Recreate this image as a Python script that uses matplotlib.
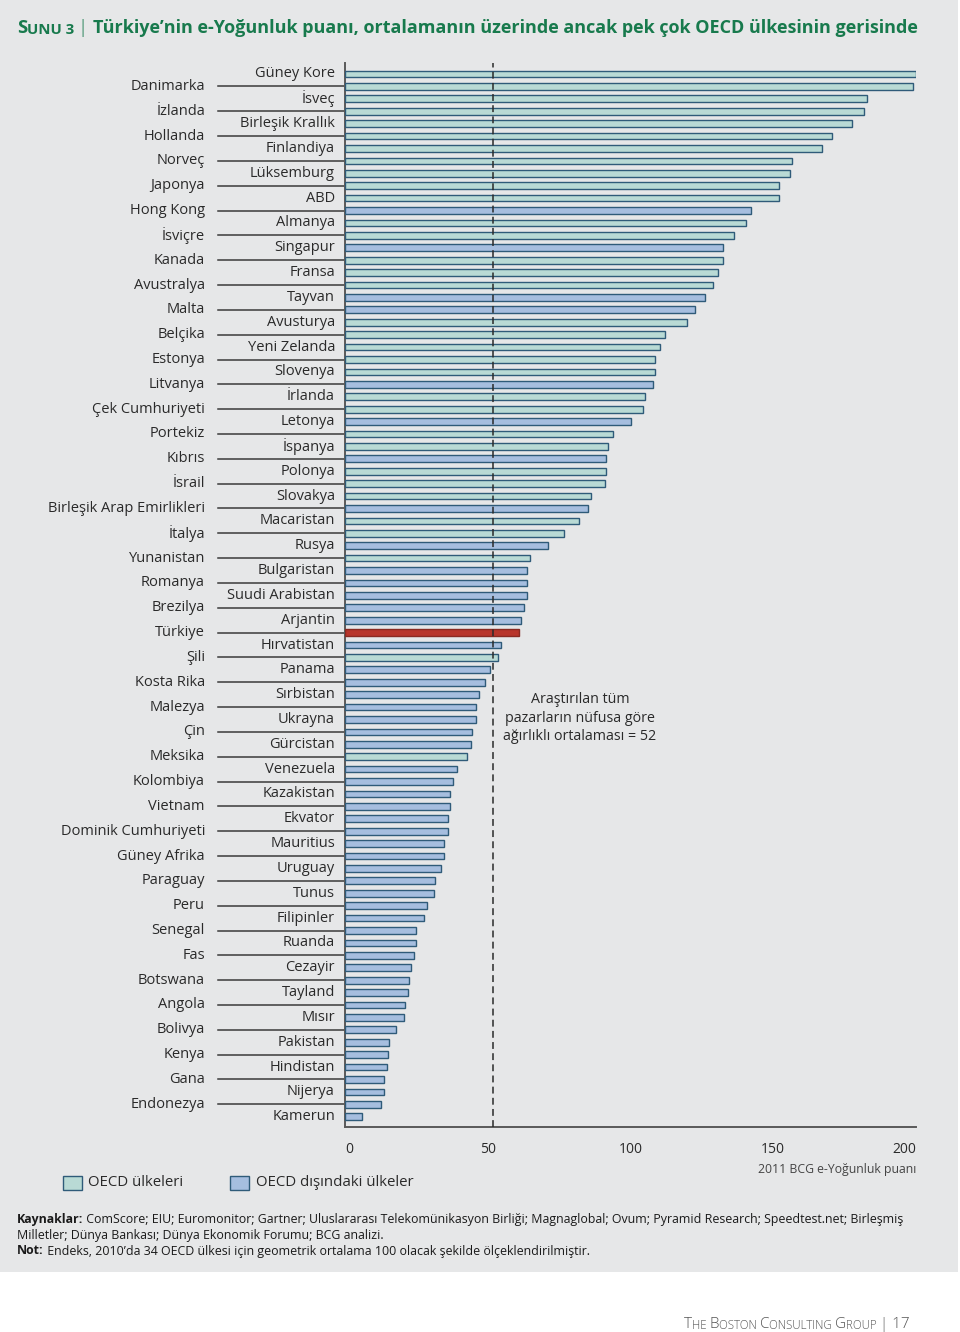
import matplotlib
matplotlib.use("Agg")
import matplotlib.pyplot as plt
from matplotlib.patches import Rectangle

plt.rcParams['font.family'] = ['Open Sans', 'DejaVu Sans']

# ---------------- data ----------------
countries = [
    "Güney Kore", "Danimarka", "İsveç", "İzlanda", "Birleşik Krallık", "Hollanda",
    "Finlandiya", "Norveç", "Lüksemburg", "Japonya", "ABD", "Hong Kong",
    "Almanya", "İsviçre", "Singapur", "Kanada", "Fransa", "Avustralya",
    "Tayvan", "Malta", "Avusturya", "Belçika", "Yeni Zelanda", "Estonya",
    "Slovenya", "Litvanya", "İrlanda", "Çek Cumhuriyeti", "Letonya", "Portekiz",
    "İspanya", "Kıbrıs", "Polonya", "İsrail", "Slovakya", "Birleşik Arap Emirlikleri",
    "Macaristan", "İtalya", "Rusya", "Yunanistan", "Bulgaristan", "Romanya",
    "Suudi Arabistan", "Brezilya", "Arjantin", "Türkiye", "Hırvatistan", "Şili",
    "Panama", "Kosta Rika", "Sırbistan", "Malezya", "Ukrayna", "Çin",
    "Gürcistan", "Meksika", "Venezuela", "Kolombiya", "Kazakistan", "Vietnam",
    "Ekvator", "Dominik Cumhuriyeti", "Mauritius", "Güney Afrika", "Uruguay", "Paraguay",
    "Tunus", "Peru", "Filipinler", "Senegal", "Ruanda", "Fas",
    "Cezayir", "Botswana", "Tayland", "Angola", "Mısır", "Bolivya",
    "Pakistan", "Kenya", "Hindistan", "Gana", "Nijerya", "Endonezya",
    "Kamerun",
]
scores = [
    200.0, 198.8, 182.8, 181.7, 177.6, 170.7,
    167.1, 156.6, 155.9, 152.0, 152.0, 142.1,
    140.3, 136.4, 132.5, 132.5, 130.6, 129.0,
    126.1, 122.5, 119.7, 112.2, 110.4, 108.7,
    108.7, 107.8, 105.0, 104.3, 100.0, 94.0,
    92.1, 91.4, 91.4, 91.1, 86.2, 85.0,
    82.1, 76.8, 71.0, 64.9, 63.9, 63.9,
    63.9, 62.8, 61.8, 61.1, 54.5, 53.6,
    50.7, 48.9, 46.8, 45.8, 45.8, 44.6,
    44.2, 42.8, 39.3, 37.7, 36.8, 36.8,
    36.0, 36.0, 34.6, 34.6, 33.5, 31.6,
    31.2, 28.7, 27.7, 24.9, 24.9, 24.2,
    23.1, 22.4, 22.1, 21.1, 20.8, 18.0,
    15.4, 15.1, 14.7, 13.6, 13.6, 12.5,
    5.8,
]
oecd_members = [
    "Güney Kore", "Danimarka", "İsveç", "İzlanda", "Birleşik Krallık", "Hollanda",
    "Finlandiya", "Norveç", "Lüksemburg", "Japonya", "ABD", "Almanya", "İsviçre",
    "Kanada", "Fransa", "Avustralya", "Avusturya", "Belçika", "Yeni Zelanda",
    "Estonya", "Slovenya", "İrlanda", "Çek Cumhuriyeti", "Portekiz", "İspanya",
    "Polonya", "İsrail", "Slovakya", "Macaristan", "İtalya", "Yunanistan",
    "Türkiye", "Şili", "Meksika",
]
highlight = "Türkiye"
average_value = 52
x_ticks = [0, 50, 100, 150, 200]

# ---------------- styles ----------------
W, H = 960, 1332
BG = "#e6e7e8"
C_OECD = "#b9dad5"
C_NON = "#a6bedf"
C_HL = "#b8352b"
EDGE = "#2f5b79"
TXT = "#2a2a2a"
GREEN = "#187a4d"

fig = plt.figure(figsize=(W / 100, H / 100), dpi=100)
fig.patch.set_facecolor("white")
fig.patches.append(Rectangle((0, 1 - 1272 / H), 958 / W, 1272 / H,
                             transform=fig.transFigure, facecolor=BG,
                             edgecolor="none", zorder=-10))

def fx(px):
    return px / W

def fy(py):
    return 1 - py / H

ax_left, ax_right, ax_top, ax_bot = 345, 916, 63, 1127
ax = fig.add_axes([fx(ax_left), fy(ax_bot), (ax_right - ax_left) / W, (ax_bot - ax_top) / H])
ax.set_facecolor("none")
ax.set_zorder(1)

n = len(countries)
ypos = list(range(n))
colors = []
for c in countries:
    if c == highlight:
        colors.append(C_HL)
    elif c in oecd_members:
        colors.append(C_OECD)
    else:
        colors.append(C_NON)
edges = [("#8a2a22" if c == highlight else EDGE) for c in countries]

ax.barh(ypos, scores, height=0.54, color=colors, edgecolor=edges, linewidth=1.0, zorder=3)

step = (1116.7 - 74) / 84
ax.set_xlim(0, 200)
ax.set_ylim((n - 1) + (ax_bot - 1116.7) / step, -(74 - ax_top) / step)

ax.axvline(average_value, color="#2a2a2a", lw=1.1, ls=(0, (4.5, 2.8)), zorder=4)

for s in ["top", "right"]:
    ax.spines[s].set_visible(False)
for s in ["left", "bottom"]:
    ax.spines[s].set_color("#5a5a5a")
    ax.spines[s].set_linewidth(1.4)

ax.set_yticks([])
ax.set_xticks(x_ticks)
ax.set_xticklabels([str(t) for t in x_ticks])
ax.tick_params(axis="x", length=0, pad=11, labelsize=10, labelcolor=TXT)
labels = ax.get_xticklabels()
labels[0].set_ha("left")
labels[-1].set_ha("right")

ax.text(1.0, -0.04, "2011 BCG e-Yoğunluk puanı", transform=ax.transAxes,
        ha="right", va="center", fontsize=8.8, color="#444444")

# country labels
ytr = ax.get_yaxis_transform()
for i, c in enumerate(countries):
    if i % 2 == 0:
        ax.text((335 - ax_left) / (ax_right - ax_left), i, c, transform=ytr,
                ha="right", va="center", fontsize=10.5, color=TXT)
    else:
        ax.text((205 - ax_left) / (ax_right - ax_left), i, c, transform=ytr,
                ha="right", va="center", fontsize=10.5, color=TXT)
        ax.plot([(218 - ax_left) / (ax_right - ax_left), 0], [i, i], transform=ytr,
                color="#3a3a3a", lw=1.1, clip_on=False, zorder=2)

# average annotation
ax.text(82.3, 51.9, "Araştırılan tüm\npazarların nüfusa göre\nağırlıklı ortalaması = 52",
        ha="center", va="center", fontsize=10.3, color=TXT, linespacing=1.3)

# ---------------- title ----------------
t1 = fig.text(fx(17), fy(33), "S", fontsize=13.3, fontweight="bold", color=GREEN, va="baseline")
t2 = ax.annotate("UNU 3 ", xy=(1, 0), xycoords=t1, va="bottom", ha="left",
                 fontsize=10.8, fontweight="bold", color=GREEN, annotation_clip=False)
t3 = ax.annotate("| ", xy=(1, 0), xycoords=t2, va="bottom", ha="left",
                 fontsize=13.3, fontweight="light", color=GREEN, annotation_clip=False)
t4 = ax.annotate("Türkiye’nin e-Yoğunluk puanı, ortalamanın üzerinde ancak pek çok OECD ülkesinin gerisinde",
                 xy=(1, 0), xycoords=t3, va="bottom", ha="left",
                 fontsize=13.0, fontweight="bold", color=GREEN, annotation_clip=False)

# ---------------- legend ----------------
fig.patches.append(Rectangle((fx(63), fy(1190)), 19 / W, 14 / H, transform=fig.transFigure,
                             facecolor=C_OECD, edgecolor=EDGE, lw=1.0, zorder=2))
fig.text(fx(88), fy(1183), "OECD ülkeleri", fontsize=10.8, color=TXT, va="center")
fig.patches.append(Rectangle((fx(230), fy(1190)), 19 / W, 14 / H, transform=fig.transFigure,
                             facecolor=C_NON, edgecolor=EDGE, lw=1.0, zorder=2))
fig.text(fx(256), fy(1183), "OECD dışındaki ülkeler", fontsize=10.8, color=TXT, va="center")

# ---------------- sources ----------------
FS = 8.9
s1 = fig.text(fx(17), fy(1220), "Kaynaklar:", fontsize=FS, fontweight="bold", color="#1a1a1a", va="center")
ax.annotate(" ComScore; EIU; Euromonitor; Gartner; Uluslararası Telekomünikasyon Birliği; Magnaglobal; Ovum; Pyramid Research; Speedtest.net; Birleşmiş",
            xy=(1, 0), xycoords=s1, va="bottom", ha="left", fontsize=FS, color="#1a1a1a",
            annotation_clip=False)
fig.text(fx(17), fy(1236), "Milletler; Dünya Bankası; Dünya Ekonomik Forumu; BCG analizi.",
         fontsize=FS, color="#1a1a1a", va="center")
s3 = fig.text(fx(17), fy(1251), "Not:", fontsize=FS, fontweight="bold", color="#1a1a1a", va="center")
ax.annotate(" Endeks, 2010’da 34 OECD ülkesi için geometrik ortalama 100 olacak şekilde ölçeklendirilmiştir.",
            xy=(1, 0), xycoords=s3, va="bottom", ha="left", fontsize=FS, color="#1a1a1a",
            annotation_clip=False)

# ---------------- footer (small caps imitation) ----------------
prev = fig.text(fx(684), fy(1328), "T", fontsize=11, color="#555555", va="baseline", fontweight="light")
parts = [("HE ", 8.3), ("B", 11), ("OSTON ", 8.3), ("C", 11), ("ONSULTING ", 8.3),
         ("G", 11), ("ROUP ", 8.3), ("| 17", 11)]
for txt, fs in parts:
    prev = ax.annotate(txt, xy=(1, 0), xycoords=prev, va="bottom", ha="left",
                       fontsize=fs, color="#555555", fontweight="light", annotation_clip=False)

fig.savefig("out.png", dpi=100, facecolor=fig.get_facecolor())
